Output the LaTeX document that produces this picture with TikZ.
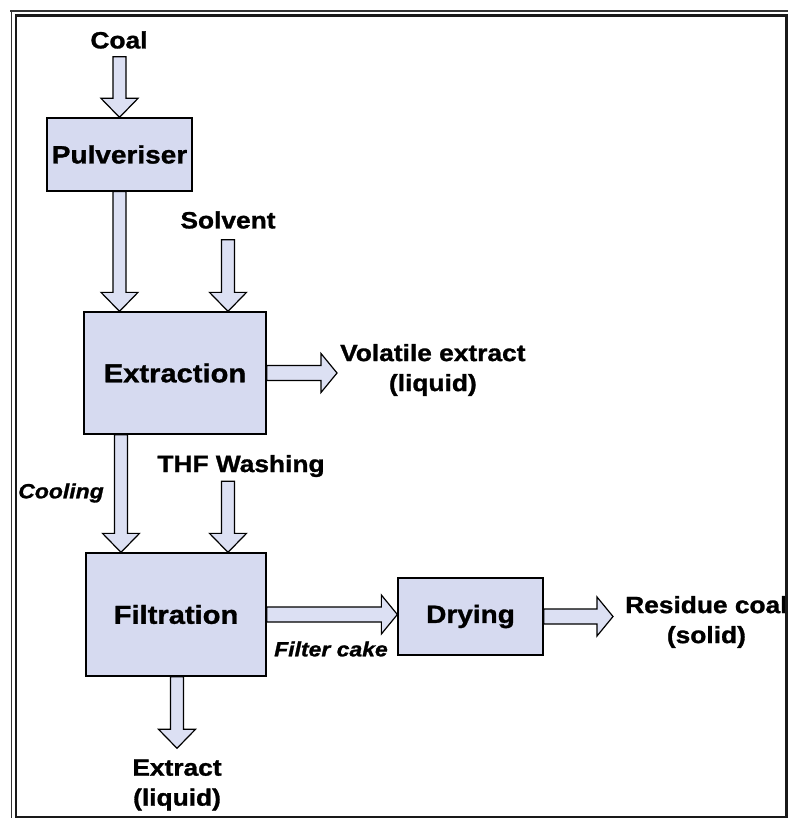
\documentclass[tikz,border=0pt]{standalone}
\usepackage{fontspec}
\setmainfont{Liberation Sans}[FakeStretch=1.12, BoldFeatures={FakeBold=1.2}, BoldItalicFeatures={FakeBold=1.2}]
\usetikzlibrary{calc}
\definecolor{boxfill}{HTML}{D6DAF0}
\definecolor{arrfill}{HTML}{DCE0F3}
\tikzset{
  proc/.style={draw=black, line width=1.3pt, fill=boxfill, inner sep=0pt,
    font=\fontsize{25}{30}\selectfont\bfseries},
  bigproc/.style={proc, font=\fontsize{26}{30}\selectfont\bfseries},
  lab/.style={inner sep=2pt, align=center, font=\fontsize{23.5}{30}\selectfont\bfseries},
  ilab/.style={inner sep=2pt, font=\fontsize{20.5}{24}\selectfont\bfseries\itshape},
  barrow/.style={draw=black, line width=1.2pt, fill=arrfill, line join=miter},
  framethick/.style={line width=2.6pt, draw=black!90},
  framethin/.style={line width=1.1pt, draw=black!80},
}
% vertical block arrow: from #1 down to tip #2 (x taken from #2)
\newcommand\vblk[2]{%
  \draw[barrow] ($(#1 -| #2)+(-6.5,0)$) -- ($(#2)+(-6.5,-19)$) -- ($(#2)+(-18.5,-19)$)
    -- (#2) -- ($(#2)+(18.5,-19)$) -- ($(#2)+(6.5,-19)$) -- ($(#1 -| #2)+(6.5,0)$) -- cycle;}
% horizontal block arrow: from #1 right to tip #2 (y taken from #1)
\newcommand\hblk[2]{%
  \draw[barrow] ($(#1)+(0,-7.5)$) -- ($(#2 |- #1)+(-16,-7.5)$) -- ($(#2 |- #1)+(-16,-19.5)$)
    -- (#2 |- #1) -- ($(#2 |- #1)+(-16,19.5)$) -- ($(#2 |- #1)+(-16,7.5)$) -- ($(#1)+(0,7.5)$) -- cycle;}
\begin{document}
\begin{tikzpicture}[x=1pt,y=-1pt]
\useasboundingbox (0,0) rectangle (788,818);
\fill[white] (0,0) rectangle (788,818);

% nodes
\node[lab] (coal) at (119,40) {Coal};
\node[proc, minimum width=145pt, minimum height=73pt] (pulv) at (119.5,154.5) {Pulveriser};
\node[lab] (solv) at (228,220) {Solvent};
\node[bigproc, minimum width=182pt, minimum height=122pt] (extr) at (175,373) {Extraction};
\node[lab, anchor=west, inner sep=1pt] (vol) at (339,370) {Volatile extract\\(liquid)};
\node[ilab] (cool) at (61,493) {Cooling};
\node[lab] (thf) at (241,466) {THF Washing};
\node[bigproc, minimum width=180pt, minimum height=123pt] (filt) at (176,614.5) {Filtration};
\node[ilab] (cake) at (331,649) {Filter cake};
\node[proc, minimum width=145pt, minimum height=77pt] (dry) at (470.5,616.5) {Drying};
\node[lab, anchor=west] (res) at (623,622) {Residue coal\\(solid)};
\node[lab] (ext) at (177,785) {Extract\\(liquid)};

% connector end points
\coordinate (coalo) at ($(coal.south)+(0,6)$);
\coordinate (solvo) at ($(solv.south)+(0,9)$);
\coordinate (thfo) at ($(thf.south -| solv.south)+(0,2)$);
\coordinate (thft) at (filt.north -| solv.south);
\coordinate (solvt) at (extr.north -| solv.south);
\coordinate (pulvt) at (extr.north -| pulv.south);
\coordinate (cools) at (extr.south -| pulv.south);
\coordinate (coolt) at ($(filt.north -| pulv.south)+(1.5,0)$);
\coordinate (volt) at ($(extr.east -| vol.west)+(-2,0)$);
\coordinate (rest) at ($(dry.east -| res.west)+(-10,0)$);
\coordinate (exts) at (filt.south -| ext.north);
\coordinate (extt) at ($(ext.north)+(0,-9)$);

% connectors
\vblk{coalo}{pulv.north}
\vblk{pulv.south}{pulvt}
\vblk{solvo}{solvt}
\hblk{extr.east}{volt}
\vblk{cools}{coolt}
\vblk{thfo}{thft}
\hblk{filt.east}{dry.west}
\hblk{dry.east}{rest}
\vblk{exts}{extt}

% frame
\draw[framethin] (10,11) -- (788,11);
\draw[framethin] (11.5,11) -- (11.5,818);
\draw[framethick] (16,15.5) -- (786.5,15.5) -- (786.5,817) -- (16,817) -- cycle;
\end{tikzpicture}
\end{document}
